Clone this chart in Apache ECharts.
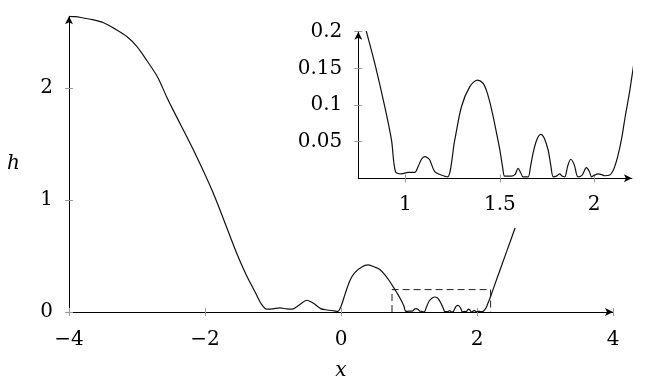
<!DOCTYPE html>
<html><head><meta charset="utf-8">
<script src="https://cdn.jsdelivr.net/npm/echarts@6/dist/echarts.min.js"></script>
<style>html,body{margin:0;padding:0;background:#fff}#c{width:654px;height:376px}</style>
</head><body><div id="c"></div>
<script>
// curve samples (x, h)
var xs = [-4.00,-3.90,-3.79,-3.65,-3.50,-3.33,-3.15,-3.00,-2.86,-2.70,-2.563,-2.466,-2.17,-1.878,-1.534,-1.40,-1.265,-1.17,-1.093,-1.00,-0.90,-0.80,-0.72,-0.62,-0.50,-0.40,-0.30,-0.20,-0.10,-0.05,0.00,0.06,0.13,0.20,0.30,0.40,0.50,0.57,0.65,0.72,0.793,0.837,0.89,0.926,0.947,0.979,1.014,1.049,1.067,1.085,1.102,1.117,1.129,1.155,1.19,1.223,1.261,1.297,1.341,1.381,1.41,1.429,1.447,1.464,1.48,1.50,1.515,1.526,1.56,1.58,1.597,1.61,1.623,1.65,1.662,1.676,1.695,1.717,1.735,1.756,1.77,1.783,1.80,1.818,1.83,1.844,1.86,1.876,1.895,1.914,1.935,1.959,1.975,1.986,2.00,2.02,2.04,2.056,2.083,2.097,2.109,2.125,2.144,2.165,2.189,2.30,2.43,2.56];
var hs = [2.64,2.637,2.625,2.61,2.585,2.53,2.46,2.37,2.25,2.10,1.92,1.80,1.446,1.06,0.524,0.34,0.18,0.07,0.025,0.028,0.036,0.028,0.025,0.06,0.105,0.075,0.03,0.018,0.01,0.005,0.05,0.16,0.28,0.35,0.40,0.42,0.40,0.38,0.33,0.27,0.20,0.157,0.098,0.052,0.009,0.006,0.008,0.008,0.016,0.026,0.0295,0.028,0.025,0.009,0.0045,0.002,0.052,0.098,0.125,0.134,0.13,0.12,0.104,0.085,0.065,0.039,0.015,0.003,0.003,0.005,0.0136,0.008,0.002,0.002,0.015,0.034,0.052,0.06,0.055,0.0386,0.018,0.002,0.003,0.006,0.003,0.002,0.017,0.026,0.018,0.002,0.004,0.0145,0.009,0.002,0.004,0.006,0.005,0.0035,0.0045,0.009,0.016,0.03,0.052,0.085,0.12,0.31,0.53,0.75];
// zoom box (x0, x1) and (y0, y1)
var boxX = [0.75, 2.2];
var boxY = [0, 0.2];
// tick values
var mainXTicks = [-4, -2, 0, 2, 4];
var mainYTicks = [0, 1, 2];
var insetXTicks = [1, 1.5, 2];
var insetYTicks = [0.05, 0.1, 0.15, 0.2];

var curve = xs.map(function(x, i){ return [x, hs[i]]; });
var box = [[boxX[0], boxY[0]], [boxX[0], boxY[1]], [boxX[1], boxY[1]], [boxX[1], boxY[0]]];

var FONT = 'DejaVu Serif';
var tickStyle = {color: '#9a9a9a', width: 1};
function fmtNum(v){ var s = String(v); return s.replace('-', '\u2212'); }

function axisMain(pos, gi, min, max, ticks, margin, extra){
  var a = {
    type: 'value', gridIndex: gi, min: min, max: max, position: pos,
    axisLine: {show: true, onZero: false, symbol: ['none', 'arrow'], symbolSize: [6, 8], lineStyle: {color: '#000', width: 1}},
    axisTick: {show: true, length: 4, customValues: ticks, lineStyle: tickStyle},
    axisLabel: {show: true, customValues: ticks, color: '#000', fontFamily: FONT, fontSize: 20,
      margin: margin, formatter: fmtNum},
    splitLine: {show: false}
  };
  for (var k in extra) a[k] = extra[k];
  return a;
}
function axisInner(pos, gi, min, max, ticks){
  return {
    type: 'value', gridIndex: gi, min: min, max: max, position: pos,
    axisLine: {show: false, onZero: false},
    axisTick: {show: true, inside: true, length: 4, customValues: ticks, lineStyle: tickStyle},
    axisLabel: {show: false},
    splitLine: {show: false}
  };
}

var chart = echarts.init(document.getElementById('c'), null, {renderer: 'canvas'});
chart.setOption({
  animation: false,
  backgroundColor: '#fff',
  grid: [
    {left: 69, top: 16.3, width: 544, height: 295.7, outerBoundsMode: 'none', containLabel: false},
    {left: 358.3, top: 31.7, width: 273.6, height: 146.6, outerBoundsMode: 'none', containLabel: false}
  ],
  xAxis: [
    axisMain('bottom', 0, -4, 4, mainXTicks, 18, {name: 'x', nameLocation: 'middle', nameGap: 49,
      nameTextStyle: {fontFamily: FONT, fontStyle: 'italic', fontSize: 20, color: '#000'}}),
    axisMain('bottom', 1, boxX[0], boxX[1], insetXTicks, 16, {}),
    axisInner('bottom', 0, -4, 4, mainXTicks),
    axisInner('bottom', 1, boxX[0], boxX[1], insetXTicks)
  ],
  yAxis: [
    axisMain('left', 0, 0, 2.64, mainYTicks, 16, {name: 'h', nameLocation: 'middle', nameGap: 49, nameRotate: 0,
      nameTextStyle: {fontFamily: FONT, fontStyle: 'italic', fontSize: 20, color: '#000', padding: [8, 0, 0, 0]}}),
    axisMain('left', 1, boxY[0], boxY[1], insetYTicks, 16, {}),
    axisInner('left', 0, 0, 2.64, mainYTicks),
    axisInner('left', 1, boxY[0], boxY[1], insetYTicks)
  ],
  series: [
    {type: 'line', xAxisIndex: 0, yAxisIndex: 0, data: curve, showSymbol: false, symbol: 'none',
      smooth: 0.3, lineStyle: {color: '#111', width: 1.2}, clip: true, z: 3},
    {type: 'line', xAxisIndex: 0, yAxisIndex: 0, data: box, showSymbol: false, symbol: 'none',
      lineStyle: {color: '#222', width: 1, type: [7, 4]}, z: 2},
    {type: 'line', xAxisIndex: 1, yAxisIndex: 1, data: curve, showSymbol: false, symbol: 'none',
      smooth: 0.3, lineStyle: {color: '#111', width: 1.2}, clip: true, z: 3}
  ]
});
</script></body></html>
